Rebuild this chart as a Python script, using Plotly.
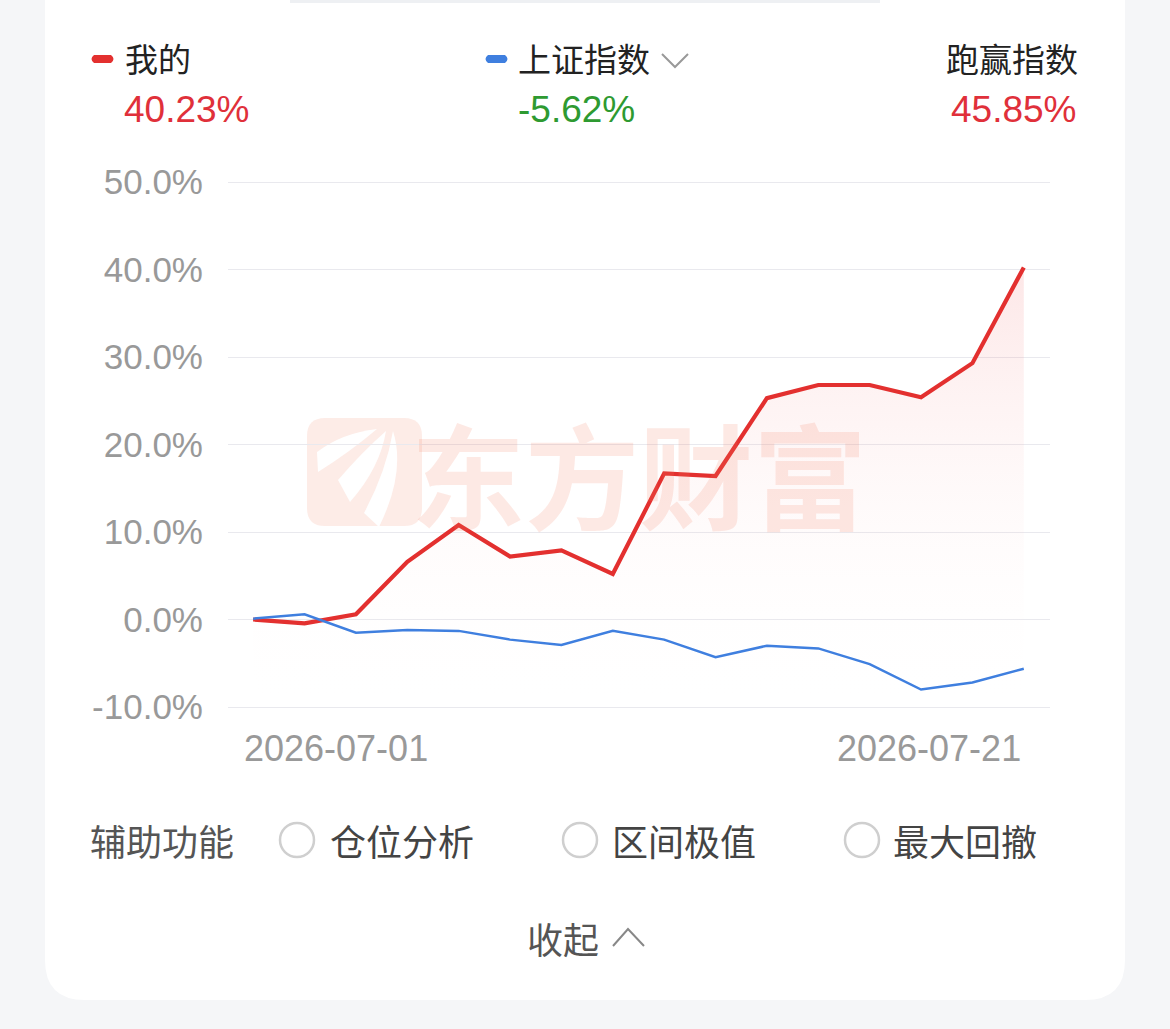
import plotly.graph_objects as go

W, H = 1170, 1029

# ---------------- data ----------------
x_idx = list(range(16))
x_tick_labels = ["2026-07-01", "2026-07-21"]
mine = [0.0, -0.45, 0.6, 6.6, 10.8, 7.2, 7.9, 5.2, 16.7, 16.4, 25.3, 26.8, 26.8, 25.4, 29.3, 40.23]
sse = [0.1, 0.6, -1.5, -1.2, -1.3, -2.3, -2.9, -1.3, -2.3, -4.3, -3.0, -3.3, -5.1, -8.0, -7.2, -5.62]
y_ticks = [-10, 0, 10, 20, 30, 40, 50]
series_names = ["我的", "上证指数", "跑赢指数"]
aux_labels = ["仓位分析", "区间极值", "最大回撤"]

RED = "#e3302f"
BLUE = "#3f7fdf"
GREEN = "#2e9a31"
TXT_RED = "#e0303a"
CJK = "Noto Sans CJK SC"
NUM = "Liberation Sans, Arial, sans-serif"


def PX(x):
    return x / W


def PY(y):
    return 1 - y / H


fig = go.Figure()

# baseline for the gradient fill (axis minimum)
fig.add_trace(go.Scatter(x=x_idx, y=[y_ticks[0]] * len(x_idx), mode="lines",
                         line=dict(width=0, color="rgba(0,0,0,0)"),
                         hoverinfo="skip", showlegend=False))
fig.add_trace(go.Scatter(
    x=x_idx, y=mine, mode="lines", fill="tonexty",
    fillgradient=dict(type="vertical",
                      colorscale=[[0, "rgba(255,255,255,0)"], [1, "rgba(238,70,70,0.13)"]]),
    line=dict(color=RED, width=4.2), showlegend=False, name=series_names[0]))
fig.add_trace(go.Scatter(x=x_idx, y=sse, mode="lines",
                         line=dict(color=BLUE, width=2.5), showlegend=False, name=series_names[1]))

shapes = []
# card
r = 40
x0, x1, y0, y1 = PX(45), PX(1125), PY(-60), PY(1000)
rx, ry = r / W, r / H
card_path = (f"M {x0},{y0} L {x1},{y0} L {x1},{y1 + ry} Q {x1},{y1} {x1 - rx},{y1} "
             f"L {x0 + rx},{y1} Q {x0},{y1} {x0},{y1 + ry} Z")
shapes.append(dict(type="path", path=card_path, xref="paper", yref="paper",
                   fillcolor="white", line=dict(width=0), layer="below"))
# top faint bar
shapes.append(dict(type="rect", xref="paper", yref="paper", x0=PX(290), x1=PX(880),
                   y0=PY(3), y1=PY(-5), fillcolor="#eef0f3", line=dict(width=0), layer="below"))

# watermark icon (rounded square)
ix0, ix1, iy0, iy1 = PX(307), PX(422), PY(418), PY(526)
ir = 18
irx, iry = ir / W, ir / H
icon_path = (f"M {ix0 + irx},{iy0} L {ix1 - irx},{iy0} Q {ix1},{iy0} {ix1},{iy0 - iry} "
             f"L {ix1},{iy1 + iry} Q {ix1},{iy1} {ix1 - irx},{iy1} L {ix0 + irx},{iy1} "
             f"Q {ix0},{iy1} {ix0},{iy1 + iry} L {ix0},{iy0 - iry} Q {ix0},{iy0} {ix0 + irx},{iy0} Z")
shapes.append(dict(type="path", path=icon_path, xref="paper", yref="paper",
                   fillcolor="rgba(246,140,110,0.17)", line=dict(width=0), layer="below"))
# white leaf shapes in icon
leaves = [
    [(317, 452), (342, 433), (377, 429), (350, 452), (318, 472)],
    [(338, 480), (362, 452), (386, 431), (380, 468), (350, 502)],
    [(364, 513), (386, 472), (393, 431), (406, 472), (379, 527)],
]
for (a, b), (c, d), (e, f), (g, h), (i, j) in leaves:
    shapes.append(dict(type="path", xref="paper", yref="paper",
                       path=(f"M {PX(a)},{PY(b)} Q {PX(c)},{PY(d)} {PX(e)},{PY(f)} "
                             f"Q {PX(g)},{PY(h)} {PX(i)},{PY(j)} Z"),
                       fillcolor="white", line=dict(width=0), layer="below"))


def pill(xa, xb, yc, color):
    h = 4
    return dict(type="path", xref="paper", yref="paper",
                path=(f"M {PX(xa + h)},{PY(yc - h)} L {PX(xb - h)},{PY(yc - h)} "
                      f"Q {PX(xb + 1)},{PY(yc)} {PX(xb - h)},{PY(yc + h)} "
                      f"L {PX(xa + h)},{PY(yc + h)} Q {PX(xa - 1)},{PY(yc)} {PX(xa + h)},{PY(yc - h)} Z"),
                fillcolor=color, line=dict(width=0))


shapes.append(pill(90, 115, 59, RED))
shapes.append(pill(484, 509, 59, BLUE))
# chevron down
shapes.append(dict(type="path", xref="paper", yref="paper",
                   path=f"M {PX(662)},{PY(54)} L {PX(675)},{PY(67)} L {PX(688)},{PY(54)}",
                   line=dict(color="#999999", width=2)))
# chevron up
shapes.append(dict(type="path", xref="paper", yref="paper",
                   path=f"M {PX(613)},{PY(946)} L {PX(628)},{PY(929)} L {PX(644)},{PY(946)}",
                   line=dict(color="#888888", width=2)))
# radio circles
for cx in [297, 580, 862]:
    shapes.append(dict(type="circle", xref="paper", yref="paper",
                       x0=PX(cx - 17), x1=PX(cx + 17), y0=PY(840 + 17), y1=PY(840 - 17),
                       line=dict(color="#cfcfcf", width=2.5), fillcolor="white"))

ann = []


def txt(text, x, y, size, color, xanchor="left", family=CJK, **kw):
    ann.append(dict(text=text, x=PX(x), y=PY(y), xref="paper", yref="paper",
                    xanchor=xanchor, yanchor="middle", showarrow=False,
                    font=dict(size=size, color=color, family=family), **kw))


excess = mine[-1] - sse[-1]
txt(series_names[0], 123, 58, 33, "#222222")
txt(f"{mine[-1]:.2f}%", 122, 109, 37, TXT_RED, family=NUM)
txt(series_names[1], 516, 58, 33, "#222222")
txt(f"{sse[-1]:.2f}%", 516, 109, 37, GREEN, family=NUM)
txt(series_names[2], 1080, 58, 33, "#222222", xanchor="right")
txt(f"{excess:.2f}%", 1079, 109, 37, TXT_RED, xanchor="right", family=NUM)

# watermark text
txt("<b>东方财富</b>", 639, 472, 114, "rgba(244,125,95,0.17)", xanchor="center")

# x tick labels at the ends
ann.append(dict(text=x_tick_labels[0], x=x_idx[0], y=PY(748), xref="x", yref="paper",
                xanchor="left", yanchor="middle", xshift=-11, showarrow=False,
                font=dict(size=36, color="#999999", family=NUM)))
ann.append(dict(text=x_tick_labels[1], x=x_idx[-1], y=PY(748), xref="x", yref="paper",
                xanchor="right", yanchor="middle", xshift=-1, showarrow=False,
                font=dict(size=36, color="#999999", family=NUM)))

# bottom row
txt("辅助功能", 88, 840, 36, "#555555")
for lx, lab in zip([328, 610, 891], aux_labels):
    txt(lab, lx, 840, 36, "#444444")
txt("收起", 525, 938, 36, "#555555")

y_lo, y_hi = -10.2, 50.2
ppu = (707 - 182) / 60.0
fig.update_layout(
    width=W, height=H, margin=dict(l=0, r=0, t=0, b=0, pad=0, autoexpand=False),
    paper_bgcolor="#f5f6f8", plot_bgcolor="rgba(0,0,0,0)",
    shapes=shapes, annotations=ann, showlegend=False,
    xaxis=dict(domain=[PX(228), PX(1050)], range=[-0.49, 15.51], showgrid=False,
               zeroline=False, showticklabels=False, fixedrange=True, automargin=False),
    yaxis=dict(domain=[PY(707 + (y_lo + 10) * -ppu), PY(182 - (y_hi - 50) * ppu)],
               range=[y_lo, y_hi], tickvals=y_ticks,
               ticktext=[f"{v:.1f}%" for v in y_ticks], showgrid=True,
               gridcolor="#e9e9ee", gridwidth=1.2, zeroline=False,
               tickfont=dict(size=35, color="#999999", family=NUM),
               ticklabelstandoff=24, fixedrange=True, automargin=False),
)

fig.write_html("out.html")
